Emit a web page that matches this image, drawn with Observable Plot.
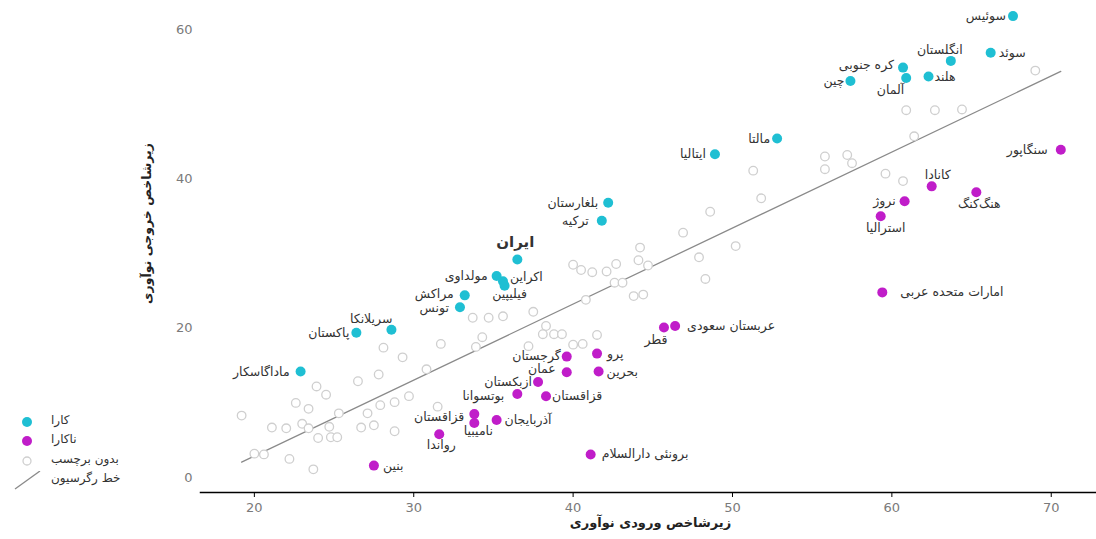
<!DOCTYPE html>
<html><head><meta charset="utf-8">
<script src="https://cdn.jsdelivr.net/npm/d3@7"></script>
<script src="https://cdn.jsdelivr.net/npm/@observablehq/plot@0.6"></script>
<style>
html,body{margin:0;padding:0;background:#fff;}
#wrap{position:relative;width:1096px;height:539px;font-family:"DejaVu Sans",sans-serif;}
#legend{position:absolute;left:0;top:0;width:190px;height:539px;pointer-events:none;}
.lg-row{position:absolute;left:0;height:18px;width:190px;}
.lg-row svg{position:absolute;left:12px;top:0;}
.lg-row span{position:absolute;left:51px;top:0px;font-size:12px;color:#333;white-space:nowrap;}
</style></head><body><div id="wrap"><div id="chart"></div><div id="legend"></div></div>
<script>
// ---- data ----
const efficientNames = ["سوئیس","سوئد","انگلستان","کره جنوبی","هلند","آلمان","چین","مالتا","ایتالیا","بلغارستان","ترکیه","ایران","مولداوی","اکراین","فیلیپین","مراکش","تونس","سریلانکا","پاکستان","ماداگاسکار"];
const efficientX = [67.6,66.2,63.7,60.7,62.3,60.9,57.4,52.8,48.9,42.2,41.8,36.5,35.2,35.6,35.7,33.2,32.9,28.6,26.4,22.9];
const efficientY = [61.8,56.9,55.8,54.9,53.7,53.5,53.1,45.4,43.3,36.8,34.4,29.2,27.0,26.3,25.7,24.4,22.8,19.8,19.4,14.2];

const inefficientNames = ["سنگاپور","کانادا","هنگ‌کنگ","نروژ","استرالیا","امارات متحده عربی","عربستان سعودی","قطر","پرو","گرجستان","بحرین","عمان","ازبکستان","بوتسوانا","قزاقستان","قزاقستان","نامیبیا","آذربایجان","رواندا","بنین","برونئی دارالسلام"];
const inefficientX = [70.6,62.5,65.3,60.8,59.3,59.4,46.4,45.7,41.5,39.6,41.6,39.6,37.8,36.5,38.3,33.8,33.8,35.2,31.6,27.5,41.1];
const inefficientY = [43.9,39.0,38.2,37.0,35.0,24.8,20.3,20.1,16.6,16.2,14.2,14.1,12.8,11.2,10.9,8.5,7.3,7.7,5.8,1.6,3.1];

const unlabeledX = [69.0,60.9,62.7,64.4,61.4,55.8,57.2,57.5,55.8,51.3,59.6,60.7,51.8,48.6,46.9,44.2,50.2,47.9,44.1,44.7,42.7,40.0,40.5,41.2,42.1,48.3,42.6,43.1,43.8,44.4,40.8,37.5,33.7,34.7,35.6,38.3,38.1,38.8,39.3,34.3,37.2,41.5,40.0,40.6,33.9,31.7,28.1,29.3,27.8,26.5,30.8,23.9,24.5,22.6,23.4,19.2,25.3,27.1,27.9,28.8,29.7,31.5,21.1,22.0,23.0,23.4,24.7,26.7,27.5,24.0,24.8,25.2,28.8,20.0,20.6,22.2,23.7];
const unlabeledY = [54.5,49.2,49.2,49.3,45.7,43.0,43.2,42.1,41.3,41.1,40.7,39.7,37.4,35.6,32.8,30.8,31.0,29.5,29.1,28.4,28.6,28.5,27.8,27.5,27.6,26.6,26.1,26.1,24.3,24.5,23.8,22.2,21.4,21.4,21.6,20.3,19.2,19.2,19.2,18.8,17.6,19.1,17.8,17.9,17.5,17.9,17.4,16.1,13.8,12.9,14.5,12.2,11.1,10.0,9.2,8.3,8.6,8.6,9.7,10.1,10.9,9.5,6.7,6.6,7.2,6.6,6.8,6.7,7.0,5.3,5.4,5.4,6.2,3.2,3.1,2.5,1.1];

const xTicks = [20,30,40,50,60,70];
const yTicks = [0,20,40,60];
const xTitle = "زیرشاخص ورودی نوآوری";
const yTitle = "زیرشاخص خروجی نوآوری";
const legendLabels = ["کارا","ناکارا","بدون برچسب","خط رگرسیون"];
const highlightName = "ایران";

// ---- label placement (anchor, dx, dy) ----
const efficientPlace = [["end",-7,0],["start",8,0],["middle",-11,-11],["end",-9,-3],["start",6,0],["end",-2,12],["end",-6,0],["end",-7,0],["end",-9,0],["end",-10,0],["end",-13,0],["middle",-2,-17],["end",-9,0],["start",7,-4],["middle",5,8],["end",-11,-1],["end",-11,1],["end",1,-11],["end",-7,0],["end",-11,0]];
const inefficientPlace = [["end",-13,0],["middle",6,-11],["middle",3,12],["end",-9,0],["middle",5,12],["start",18,0],["start",12,0],["middle",-8,13],["start",10,0],["end",-6,-1],["start",8,0],["end",-11,-3],["end",-6,0],["end",-13,2],["start",6,0],["end",-10,3],["middle",4,8],["start",8,0],["middle",2,11],["start",9,0],["start",11,0]];

const CYAN = "#1fbfd3", MAGENTA = "#c01dc9", GRAY = "#cfcfcf", LINE = "#8a8a8a";

const efficient = efficientNames.map((n,i)=>({name:n,x:efficientX[i],y:efficientY[i],place:efficientPlace[i]}));
const inefficient = inefficientNames.map((n,i)=>({name:n,x:inefficientX[i],y:inefficientY[i],place:inefficientPlace[i]}));
const unlabeled = unlabeledX.map((x,i)=>({x,y:unlabeledY[i]}));
const all = [...efficient, ...inefficient, ...unlabeled];

const labelMarks = [...efficient, ...inefficient].map(d => {
  const big = d.name === highlightName;
  return Plot.text([d], {x:"x", y:"y", text:"name", textAnchor:d.place[0], dx:d.place[1], dy:d.place[2],
    fill:"#333", fontSize: big ? 15 : 12.5, fontWeight: big ? "bold" : "normal"});
});

const chart = Plot.plot({
  width:1096, height:539,
  marginLeft:200, marginRight:0, marginTop:10, marginBottom:47,
  x:{domain:[16.62,72.84]},
  y:{domain:[-2,62.55]},
  style:{fontFamily:"DejaVu Sans, sans-serif", background:"#fff", overflow:"visible"},
  marks:[
    Plot.axisY({ticks:yTicks, tickSize:0, tickPadding:8, label:null, fill:"#7a7a7a", fontSize:13}),
    Plot.axisX({ticks:xTicks, tickSize:5, tickPadding:5, label:null, stroke:"#000", fill:"#7a7a7a", fontSize:13}),
    Plot.frame({anchor:"bottom", stroke:"#000", strokeWidth:1.5}),
    Plot.linearRegressionY(all, {x:"x", y:"y", stroke:LINE, strokeWidth:1.3, ci:0}),
    Plot.dot(unlabeled, {x:"x", y:"y", r:4.3, stroke:GRAY, strokeWidth:1.3, fill:"#fff"}),
    Plot.dot(efficient, {x:"x", y:"y", r:5, fill:CYAN}),
    Plot.dot(inefficient, {x:"x", y:"y", r:5, fill:MAGENTA}),
    ...labelMarks,
    Plot.text([xTitle], {frameAnchor:"bottom", textAnchor:"middle", dy:34, dx:2, fontSize:13, fontWeight:"bold", fill:"#222"}),
    Plot.text([yTitle], {frameAnchor:"left", textAnchor:"middle", rotate:-90, dx:-54, dy:-28, fontSize:12.5, fontWeight:"bold", fill:"#222"})
  ]
});
document.getElementById("chart").appendChild(chart);

// ---- legend ----
const legend = d3.select("#legend");
const rowsTop = [413, 432, 452, 471];
const symbols = [
  s => s.append("circle").attr("cx",15).attr("cy",9).attr("r",5).attr("fill",CYAN),
  s => s.append("circle").attr("cx",15).attr("cy",9).attr("r",5).attr("fill",MAGENTA),
  s => s.append("circle").attr("cx",15).attr("cy",9).attr("r",4).attr("fill","#fff").attr("stroke",GRAY).attr("stroke-width",1.3),
  s => s.append("line").attr("x1",3).attr("y1",18).attr("x2",28).attr("y2",0).attr("stroke",LINE).attr("stroke-width",1.3)
];
legendLabels.forEach((lab,i)=>{
  const row = legend.append("div").attr("class","lg-row").style("top",rowsTop[i]+"px");
  const svg = row.append("svg").attr("width",32).attr("height",20);
  symbols[i](svg);
  row.append("span").text(lab);
});
</script>
</body></html>
